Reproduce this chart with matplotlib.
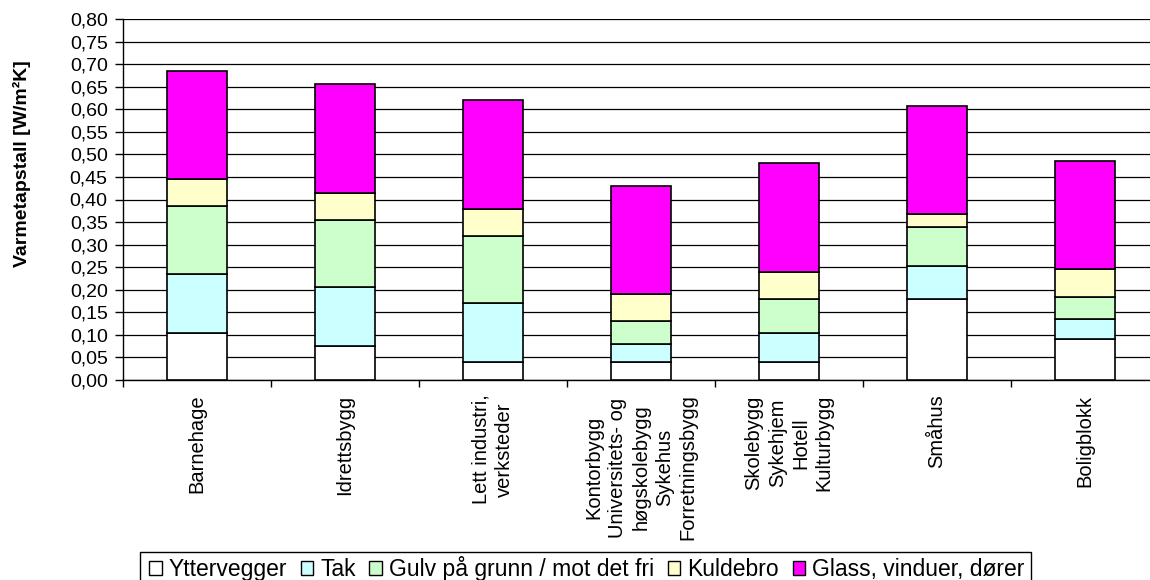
import matplotlib
matplotlib.use("Agg")
import matplotlib.pyplot as plt
import numpy as np
from matplotlib.ticker import FuncFormatter, MultipleLocator
from matplotlib.patches import Rectangle

plt.rcParams['font.family'] = ['Liberation Sans', 'DejaVu Sans']

categories = ["Barnehage", "Idrettsbygg", "Lett industri,\nverksteder",
              "Kontorbygg\nUniversitets- og\nhøgskolebygg\nSykehus\nForretningsbygg",
              "Skolebygg\nSykehjem\nHotell\nKulturbygg", "Småhus", "Boligblokk"]
series_names = ["Yttervegger", "Tak", "Gulv på grunn / mot det fri", "Kuldebro", "Glass, vinduer, dører"]
yttervegger = [0.105, 0.075, 0.04, 0.04, 0.04, 0.18, 0.09]
tak         = [0.13, 0.13, 0.13, 0.04, 0.065, 0.073, 0.045]
gulv        = [0.15, 0.15, 0.15, 0.05, 0.075, 0.085, 0.05]
kuldebro    = [0.06, 0.06, 0.06, 0.06, 0.06, 0.03, 0.06]
glass       = [0.24, 0.24, 0.24, 0.24, 0.24, 0.24, 0.24]
colors = ["#FFFFFF", "#CCFFFF", "#CCFFCC", "#FFFFCC", "#FF00FF"]
y_label = "Varmetapstall [W/m²K]"

W, H = 1150, 580
fig = plt.figure(figsize=(W/100, H/100), dpi=100)
ax = fig.add_axes([123/W, 1-380/H, (1159-123)/W, (380-19)/H])

x = np.arange(len(categories))
bottom = np.zeros(len(categories))
handles = []
for vals, name, col in zip([yttervegger, tak, gulv, kuldebro, glass], series_names, colors):
    b = ax.bar(x, vals, width=0.405, bottom=bottom, color=col, edgecolor='black',
               linewidth=1.2, label=name, zorder=3)
    handles.append(b)
    bottom += np.array(vals)

ax.set_xlim(-0.5, len(categories) - 0.5)
ax.set_ylim(0, 0.80)
ax.yaxis.set_major_locator(MultipleLocator(0.05))
ax.yaxis.set_major_formatter(FuncFormatter(lambda v, p: f"{v:.2f}".replace('.', ',')))
ax.yaxis.grid(True, color='black', linewidth=0.9, zorder=0)
ax.set_axisbelow(True)

for s in ['top', 'right']:
    ax.spines[s].set_visible(False)
for s in ['left', 'bottom']:
    ax.spines[s].set_color('black')
    ax.spines[s].set_linewidth(1.0)

ax.tick_params(axis='y', which='major', length=6, width=1, direction='out', labelsize=14, pad=5)
ax.set_xticks(x)
ax.set_xticklabels(categories, rotation=90, ha='center', va='top', multialignment='center',
                   fontsize=14.5, linespacing=1.3)
ax.set_xticks(np.arange(len(categories) + 1) - 0.5, minor=True)
ax.tick_params(axis='x', which='major', length=0, pad=10.5)
ax.tick_params(axis='x', which='minor', length=5, width=1, direction='out')

fig.text(22/W, 1-164/H, y_label, rotation=90, ha='center', va='center',
         fontsize=14, fontweight='bold')

leg = fig.legend(handles=handles, labels=series_names, loc='upper left',
                 bbox_to_anchor=(149/W, 1-556/H), ncol=5, frameon=False,
                 fontsize=16.5, handlelength=0.55, handleheight=0.55, handletextpad=0.3,
                 columnspacing=0.6, borderpad=0.0, borderaxespad=0)
for h in leg.legend_handles:
    h.set_linewidth(1.0)

fig.canvas.draw()
bb = leg.get_window_extent()
x0, x1 = 140, bb.x1 + 6
y_top = H - 552
frame = Rectangle((x0/W, -0.05), (x1 - x0)/W, y_top/H + 0.05, transform=fig.transFigure,
                  fill=False, edgecolor='black', linewidth=1.0)
fig.add_artist(frame)

fig.savefig("out.png", dpi=100)
